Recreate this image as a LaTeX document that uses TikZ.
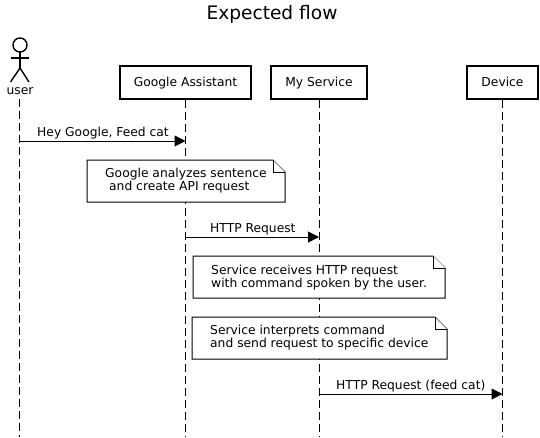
\documentclass[tikz,border=0pt]{standalone}
\usepackage{fontspec}
\setmainfont{DejaVu Sans}
\usetikzlibrary{arrows.meta}
\tikzset{
    lane/.style = {draw, line width=2pt, minimum height=33pt, inner sep=0pt, font=\fontsize{12.3}{15}\selectfont},
    lifeline/.style = {line width=1pt, dash pattern=on 8pt off 4pt},
    message/.style = {line width=1pt, -{Triangle[length=11pt,width=11pt]}},
    msgtext/.style = {inner sep=0pt, font=\fontsize{12.3}{15}\selectfont},
    notebox/.style = {draw, line width=1pt, fill=white, line join=miter},
    notetext/.style = {inner sep=0pt, align=left, anchor=base west, font=\fontsize{12.3}{13}\selectfont}
}
\begin{document}
\begin{tikzpicture}[x=1pt, y=-1pt]
    \useasboundingbox (0,0) rectangle (540,437);
    % Title
    \node[inner sep=0pt, anchor=base, font=\fontsize{18.6}{22}\selectfont] (title) at (272,19) {Expected flow};

    % Participants
    \node[lane, minimum width=131pt, text depth=0pt] (assistant) at (185.5,82) {Google Assistant};
    \node[lane, minimum width=96pt, text depth=0pt] (service) at (319,82) {My Service};
    \node[lane, minimum width=71pt, text depth=0pt] (device) at (502.5,82) {Device};

    % Actor
    \coordinate (hip) at (20,68);
    \draw[line width=1.4pt] (20,45) circle (7);
    \draw[line width=1.4pt] (20,52) -- (hip);
    \draw[line width=1.4pt] (11,58) -- (29,58);
    \draw[line width=1.4pt] (10.5,82) -- (hip) -- (29,82);
    \node[msgtext, anchor=base] (user) at (20,94.5) {user};

    % Lifelines
    \coordinate (user end) at (19.5,437);
    \coordinate (assistant end) at (185.5,437);
    \coordinate (service end) at (319,437);
    \coordinate (device end) at (502.5,437);
    \draw[lifeline] (19.5,99) -- (user end);
    \draw[lifeline] (assistant.south) -- (assistant end);
    \draw[lifeline] (service.south) -- (service end);
    \draw[lifeline] (device.south) -- (device end);

    % Messages
    \draw[message] (19.5,141) coordinate (A1) -- (185.5,141) coordinate (B1);
    \node[msgtext, anchor=base west] (hey) at (37,136.5) {Hey Google, Feed cat};
    \draw[message] (185.5,237) coordinate (A2) -- (319,237) coordinate (B2);
    \node[msgtext, anchor=base west] (http) at (210,232.5) {HTTP Request};
    \draw[message] (319,394) coordinate (A3) -- (502.5,394) coordinate (B3);
    \node[msgtext, anchor=base west] (feed) at (336,389.5) {HTTP Request (feed cat)};

    % Notes
    \draw[notebox] (87,160) -- (273,160) -- (285,172) -- (285,202) -- (87,202) -- cycle;
    \draw[notebox] (273,160) -- (273,172) -- (285,172);
    \node[notetext] (analyzes) at (105,177.5) {Google analyzes sentence};
    \node[notetext] (create) at (109,190) {and create API request};

    \draw[notebox] (193,256) -- (433,256) -- (445,268) -- (445,298) -- (193,298) -- cycle;
    \draw[notebox] (433,256) -- (433,268) -- (445,268);
    \node[notetext] (receives) at (211,274) {Service receives HTTP request};
    \node[notetext] (spoken) at (211,287) {with command spoken by the user.};

    \draw[notebox] (192,317) -- (435,317) -- (447,329) -- (447,359) -- (192,359) -- cycle;
    \draw[notebox] (435,317) -- (435,329) -- (447,329);
    \node[notetext] (interprets) at (210,334.5) {Service interprets command};
    \node[notetext] (send) at (210,347) {and send request to specific device};
\end{tikzpicture}
\end{document}
